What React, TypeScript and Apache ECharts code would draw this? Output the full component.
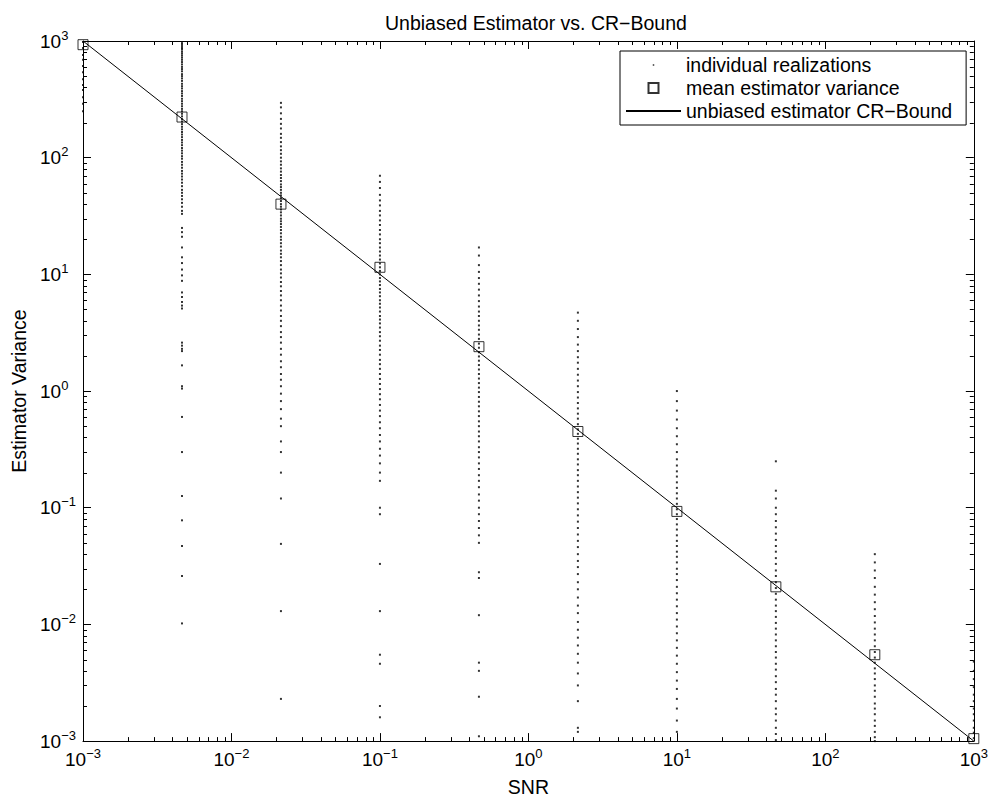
import React, { useEffect, useRef } from 'react';
import * as echarts from 'echarts';

const FONT = '"Liberation Sans", Arial, Helvetica, sans-serif';

const TITLE = 'Unbiased Estimator vs. CR\u2212Bound';
const X_NAME = 'SNR';
const Y_NAME = 'Estimator Variance';
const LEGEND_NAMES = ['individual realizations', 'mean estimator variance', 'unbiased estimator CR\u2212Bound'];

const SNR = [0.001, 0.004642, 0.02154, 0.1, 0.4642, 2.154, 10, 46.42, 215.4, 1000];
const MEAN_VARIANCE = [930, 223, 40, 11.5, 2.4, 0.45, 0.093, 0.021, 0.0055, 0.00105];
const CR_BOUND = [1000, 215.4, 46.42, 10, 2.154, 0.4642, 0.1, 0.02154, 0.004642, 0.001];

const REAL_1 = [980, 870, 760, 690, 610, 540, 470, 420, 380, 330, 290, 250];
const REAL_2 = [960, 930, 900, 870, 845, 810, 780, 750, 720, 690, 660, 630, 600, 575, 550, 520, 500, 478, 455, 430, 410, 392, 372, 355, 338, 320, 305, 290, 276, 262, 250, 238, 226, 214, 204, 194, 184, 175, 166, 158, 150, 142, 135, 128, 121, 115, 109, 103, 98, 92, 87, 82, 77, 73, 69, 65, 61, 57, 53, 50, 47, 44, 41, 38, 35, 33, 25, 23, 21, 17, 14, 12.5, 11, 9.8, 8.8, 7, 6.4, 5.8, 5.4, 5.1, 2.6, 2.45, 2.3, 2.2, 1.66, 1.1, 1.05, 0.6, 0.3, 0.126, 0.078, 0.047, 0.026, 0.0102];
const REAL_3 = [295, 270, 240, 215, 195, 178, 160, 148, 136, 125, 116, 108, 100, 93, 87, 81, 76, 71, 67, 63, 59, 56, 53, 50, 47.5, 45, 42.5, 40, 38, 36, 34, 32, 30, 28.5, 27, 25.5, 24, 22.5, 21, 19.8, 18.5, 17.3, 16, 15, 14, 13, 12, 11, 10.2, 9.4, 8.6, 7.9, 7.2, 6.6, 6, 5.4, 4.9, 4.4, 4, 3.6, 3.2, 2.9, 2.6, 2.3, 2.05, 1.8, 1.6, 1.4, 1.25, 1.1, 0.95, 0.82, 0.7, 0.58, 0.5, 0.37, 0.3, 0.2, 0.12, 0.049, 0.013, 0.0023];
const REAL_4 = [70, 62, 55, 48, 43, 39, 35, 32, 29, 26.5, 24, 22, 20, 18.5, 17, 15.7, 14.5, 13.4, 12.4, 11.5, 10.7, 10, 9.3, 8.7, 8.1, 7.5, 7, 6.5, 6, 5.6, 5.2, 4.8, 4.4, 4.1, 3.8, 3.5, 3.2, 2.95, 2.7, 2.45, 2.25, 2.05, 1.85, 1.7, 1.55, 1.4, 1.27, 1.15, 1.04, 0.94, 0.85, 0.76, 0.68, 0.61, 0.54, 0.48, 0.42, 0.37, 0.32, 0.28, 0.24, 0.2, 0.17, 0.1, 0.088, 0.033, 0.013, 0.0055, 0.0046, 0.002, 0.0016];
const REAL_5 = [17, 14.5, 12, 10.5, 9.3, 8.3, 7.4, 6.6, 5.9, 5.3, 4.8, 4.4, 4, 3.65, 3.35, 3.05, 2.8, 2.55, 2.35, 2.15, 1.98, 1.82, 1.67, 1.53, 1.4, 1.28, 1.17, 1.07, 0.98, 0.89, 0.81, 0.74, 0.67, 0.61, 0.55, 0.5, 0.45, 0.41, 0.37, 0.33, 0.3, 0.27, 0.24, 0.215, 0.19, 0.17, 0.15, 0.13, 0.115, 0.1, 0.088, 0.077, 0.067, 0.058, 0.05, 0.028, 0.025, 0.012, 0.0047, 0.004, 0.0024, 0.0011];
const REAL_6 = [4.7, 4.0, 3.4, 2.9, 2.5, 2.2, 1.95, 1.75, 1.55, 1.38, 1.23, 1.1, 0.98, 0.88, 0.79, 0.71, 0.64, 0.58, 0.52, 0.47, 0.43, 0.39, 0.355, 0.32, 0.29, 0.26, 0.235, 0.21, 0.19, 0.17, 0.152, 0.136, 0.122, 0.109, 0.097, 0.086, 0.076, 0.067, 0.059, 0.052, 0.046, 0.04, 0.035, 0.031, 0.027, 0.023, 0.02, 0.017, 0.0145, 0.0125, 0.0105, 0.009, 0.0077, 0.0066, 0.0056, 0.0047, 0.0038, 0.003, 0.0022, 0.0013, 0.0012];
const REAL_7 = [1.0, 0.82, 0.68, 0.57, 0.48, 0.41, 0.35, 0.3, 0.26, 0.23, 0.205, 0.185, 0.165, 0.148, 0.133, 0.12, 0.108, 0.097, 0.088, 0.08, 0.072, 0.065, 0.058, 0.052, 0.047, 0.042, 0.038, 0.034, 0.03, 0.027, 0.024, 0.021, 0.0185, 0.0163, 0.0143, 0.0125, 0.011, 0.0096, 0.0084, 0.0073, 0.0063, 0.0054, 0.0046, 0.0039, 0.0033, 0.0028, 0.0023, 0.0019, 0.0015, 0.0012];
const REAL_8 = [0.25, 0.14, 0.12, 0.1, 0.088, 0.077, 0.068, 0.06, 0.053, 0.047, 0.042, 0.037, 0.033, 0.029, 0.026, 0.023, 0.0205, 0.0183, 0.0163, 0.0145, 0.013, 0.0116, 0.0103, 0.0092, 0.0082, 0.0073, 0.0065, 0.0058, 0.0052, 0.0046, 0.0041, 0.0036, 0.0032, 0.0028, 0.0025, 0.0022, 0.0019, 0.0017, 0.0015, 0.0013, 0.00115, 0.00102];
const REAL_9 = [0.04, 0.034, 0.029, 0.025, 0.021, 0.018, 0.0155, 0.0135, 0.0118, 0.0104, 0.0092, 0.0082, 0.0073, 0.0065, 0.0058, 0.0052, 0.0047, 0.0042, 0.0038, 0.0034, 0.003, 0.0027, 0.0024, 0.0021, 0.0019, 0.0017, 0.0015, 0.00135, 0.0012, 0.00108, 0.001];
const REAL_10 = [0.0048, 0.004, 0.0034, 0.0029, 0.0025, 0.0022, 0.0019, 0.0017, 0.0015, 0.0013, 0.00118, 0.00106];
const REALIZATIONS = [REAL_1, REAL_2, REAL_3, REAL_4, REAL_5, REAL_6, REAL_7, REAL_8, REAL_9, REAL_10];

const AXIS_MIN = 0.001;
const AXIS_MAX = 1000;
const DECADES = [0.001, 0.01, 0.1, 1, 10, 100];
const MINOR_MULTIPLIERS = [2, 3, 4, 5, 6, 7, 8, 9];

const tickLabel = (v: number) => {
  const e = Math.round(Math.log10(v));
  const s = e < 0 ? '\u2212' + String(-e) : String(e);
  return '{b|10}{s|' + s + '}';
};

const labelRich = {
  b: { fontSize: 19, fontFamily: FONT, color: '#000', lineHeight: 19 },
  s: { fontSize: 13, fontFamily: FONT, color: '#000', lineHeight: 13, padding: [0, 0, 12, 0] },
};

export default function App() {
  const ref = useRef<HTMLDivElement>(null);
  useEffect(() => {
    if (!ref.current) return;
    const chart = echarts.init(ref.current, undefined, { renderer: 'svg' });

    const dots: number[][] = [];
    REALIZATIONS.forEach((col, i) => col.forEach((v) => dots.push([SNR[i], v])));
    const means = SNR.map((x, i) => [x, MEAN_VARIANCE[i]]);
    const bound = SNR.map((x, i) => [x, CR_BOUND[i]]);

    const minorData: number[][] = [];
    DECADES.forEach((d) =>
      MINOR_MULTIPLIERS.forEach((m) => {
        minorData.push([m * d, 1, 0]);
        minorData.push([1, m * d, 1]);
      })
    );

    const axisLine = { show: true, onZero: false, lineStyle: { color: '#000', width: 1 } };
    const axisTick = { show: true, inside: true, length: 8, lineStyle: { color: '#000', width: 1 } };
    const common = {
      type: 'log' as const,
      logBase: 10,
      min: AXIS_MIN,
      max: AXIS_MAX,
      splitNumber: 6,
      splitLine: { show: false },
      axisLine,
      axisTick,
    };

    chart.setOption({
      animation: false,
      backgroundColor: '#fff',
      title: {
        text: TITLE,
        left: 380,
        top: 8,
        textStyle: { fontSize: 19.5, fontWeight: 'normal', fontFamily: FONT, color: '#000' },
      },
      grid: { left: 83, right: 16, top: 41, bottom: 58, containLabel: false },
      legend: {
        orient: 'vertical',
        left: 620,
        top: 51,
        itemWidth: 55,
        itemHeight: 10,
        itemGap: 3,
        padding: [4, 14, 4, 5],
        borderColor: '#000',
        borderWidth: 1,
        backgroundColor: '#fff',
        selectedMode: false,
        symbolKeepAspect: true,
        textStyle: { fontSize: 19.5, fontFamily: FONT, color: '#000' },
        data: [
          { name: LEGEND_NAMES[0], icon: 'path://M0,0M8.5,8.5h3v3h-3zM20,20' },
          { name: LEGEND_NAMES[1], icon: 'path://M0,0M22.5,0h10v10h-10zM55,10' },
          { name: LEGEND_NAMES[2] },
        ],
      },
      xAxis: [
        {
          ...common,
          position: 'bottom',
          name: X_NAME,
          nameLocation: 'middle',
          nameGap: 33,
          nameTextStyle: { fontSize: 19.5, fontFamily: FONT, color: '#000' },
          axisLabel: { show: true, margin: 9, formatter: tickLabel, rich: labelRich },
        },
        { ...common, position: 'top', axisLabel: { show: false } },
      ],
      yAxis: [
        {
          ...common,
          position: 'left',
          name: Y_NAME,
          nameLocation: 'middle',
          nameGap: 50,
          nameTextStyle: { fontSize: 19.5, fontFamily: FONT, color: '#000' },
          axisLabel: { show: true, margin: 43, align: 'left', formatter: tickLabel, rich: labelRich },
        },
        { ...common, position: 'right', axisLabel: { show: false } },
      ],
      series: [
        {
          name: 'minor ticks',
          type: 'custom',
          silent: true,
          clip: false,
          data: minorData,
          encode: { x: 0, y: 1 },
          renderItem: (params: any, api: any) => {
            const cs = params.coordSys;
            const kind = api.value(2);
            const style = { stroke: '#000', lineWidth: 1 };
            const L = 4;
            if (kind === 0) {
              const px = Math.round(api.coord([api.value(0), 1])[0]) + 0.5;
              const yb = cs.y + cs.height;
              const yt = cs.y;
              return {
                type: 'group',
                children: [
                  { type: 'line', shape: { x1: px, y1: yb, x2: px, y2: yb - L }, style },
                  { type: 'line', shape: { x1: px, y1: yt, x2: px, y2: yt + L }, style },
                ],
              };
            }
            const py = Math.round(api.coord([1, api.value(1)])[1]) + 0.5;
            const xl = cs.x;
            const xr = cs.x + cs.width;
            return {
              type: 'group',
              children: [
                { type: 'line', shape: { x1: xl, y1: py, x2: xl + L, y2: py }, style },
                { type: 'line', shape: { x1: xr, y1: py, x2: xr - L, y2: py }, style },
              ],
            };
          },
        },
        {
          name: LEGEND_NAMES[0],
          type: 'scatter',
          symbol: 'rect',
          symbolSize: 2,
          itemStyle: { color: '#000' },
          data: dots,
          silent: true,
        },
        {
          name: LEGEND_NAMES[2],
          type: 'line',
          showSymbol: false,
          symbol: 'none',
          lineStyle: { color: '#000', width: 1 },
          itemStyle: { color: 'rgba(0,0,0,0)' },
          data: bound,
          silent: true,
        },
        {
          name: LEGEND_NAMES[1],
          type: 'scatter',
          symbol: 'rect',
          symbolSize: 10,
          itemStyle: { color: 'rgba(255,255,255,0)', borderColor: '#000', borderWidth: 1 },
          data: means,
          silent: true,
          z: 5,
        },
      ],
    });
    return () => chart.dispose();
  }, []);
  return <div ref={ref} style={{ position: 'absolute', left: 0, top: 0, width: 991, height: 802 }} />;
}
